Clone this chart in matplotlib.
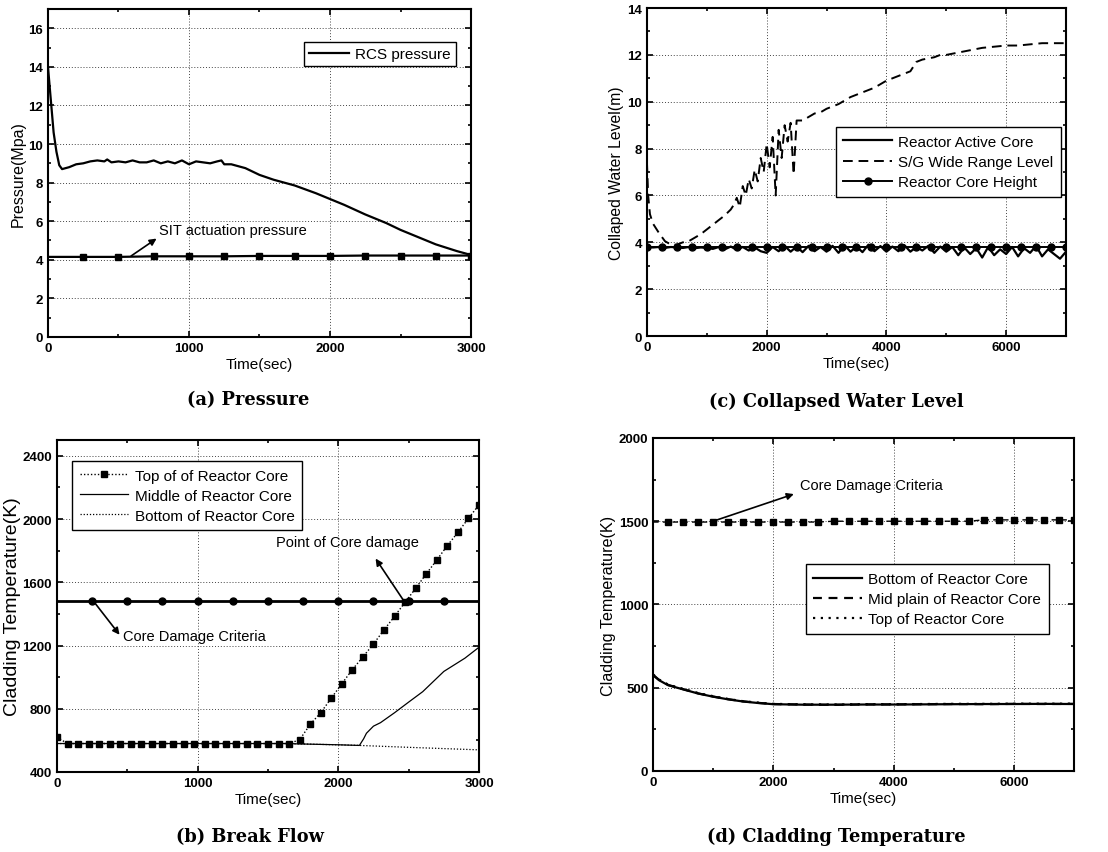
import matplotlib
matplotlib.use("Agg")
import matplotlib.pyplot as plt
from matplotlib.ticker import MultipleLocator

plt.rcParams['font.family'] = ['Liberation Sans', 'DejaVu Sans']

# ---------------- (a) Pressure ----------------
t_rcs = [0, 20, 40, 60, 80, 100, 150, 200, 250, 300, 350, 400, 420, 450, 500, 550, 600, 650,
         700, 750, 800, 850, 900, 950, 1000, 1050, 1100, 1150, 1200, 1230, 1250, 1300, 1400,
         1500, 1600, 1750, 1900, 2000, 2100, 2250, 2400, 2500, 2600, 2750, 2900, 3000]
p_rcs = [14.0, 12.3, 10.6, 9.6, 8.9, 8.7, 8.8, 8.95, 9.0, 9.1, 9.15, 9.1, 9.2, 9.05, 9.1, 9.05,
         9.15, 9.05, 9.05, 9.15, 9.0, 9.1, 9.0, 9.15, 8.95, 9.1, 9.05, 9.0, 9.1, 9.15, 8.95,
         8.95, 8.75, 8.4, 8.15, 7.85, 7.45, 7.15, 6.85, 6.35, 5.9, 5.55, 5.25, 4.8, 4.45, 4.25]
t_sit = [0, 250, 500, 750, 1000, 1250, 1500, 1750, 2000, 2250, 2500, 2750, 3000]
p_sit = [4.15, 4.15, 4.15, 4.18, 4.18, 4.18, 4.2, 4.2, 4.2, 4.22, 4.22, 4.22, 4.22]

# ---------------- (c) Collapsed water level ----------------
t_sg = [0, 20, 50, 100, 200, 300, 400, 500, 600, 700, 800, 900, 1000, 1100, 1200, 1300, 1400,
        1450, 1500, 1550, 1600, 1650, 1700, 1750, 1800, 1850, 1900, 1950, 2000, 2050, 2100,
        2150, 2200, 2250, 2300, 2350, 2400, 2450, 2500, 2600, 2700, 2800, 2900, 3000, 3200,
        3400, 3500, 3600, 3800, 4000, 4200, 4400, 4500, 4600, 4800, 4900, 5000, 5200, 5400,
        5600, 5800, 6000, 6200, 6400, 6600, 6800, 7000]
lv_sg = [7.4, 6.0, 5.2, 4.8, 4.4, 4.05, 3.9, 3.9, 4.0, 4.05, 4.2, 4.35, 4.55, 4.75, 4.95, 5.15,
         5.4, 5.6, 5.9, 5.5, 6.4, 6.0, 6.7, 6.3, 7.1, 6.6, 7.6, 7.0, 8.2, 7.2, 8.5, 6.0, 8.8,
         7.6, 9.0, 8.3, 9.1, 6.9, 9.2, 9.2, 9.35, 9.5, 9.55, 9.7, 9.9, 10.2, 10.3, 10.4, 10.6,
         10.9, 11.1, 11.3, 11.7, 11.8, 11.9, 12.0, 12.0, 12.1, 12.2, 12.3, 12.35, 12.4, 12.4,
         12.45, 12.5, 12.5, 12.5]
t_core = list(range(0, 7001, 100))
lv_core = [3.8, 3.78, 3.8, 3.76, 3.8, 3.78, 3.76, 3.8, 3.75, 3.78, 3.76,
           3.72, 3.8, 3.7, 3.82, 3.68, 3.8, 3.65, 3.78, 3.62, 3.55,
           3.8, 3.62, 3.85, 3.6, 3.82, 3.58, 3.85, 3.62, 3.8, 3.6,
           3.85, 3.55, 3.88, 3.6, 3.82, 3.58, 3.9, 3.62, 3.84, 3.6,
           3.82, 3.62, 3.88, 3.6, 3.8, 3.65, 3.85, 3.55, 3.82, 3.6,
           3.8, 3.45, 3.78, 3.5, 3.75, 3.35, 3.8, 3.45, 3.7, 3.5,
           3.8, 3.4, 3.75, 3.55, 3.85, 3.4, 3.7, 3.5, 3.3, 3.6]
t_height = list(range(0, 7001, 250))
lv_height = [3.8] * len(t_height)

# ---------------- (b) Break flow ----------------
t_top = list(range(0, 3001, 75))
T_top = ([620] + [580] * 22 +
         [604, 701, 775, 867, 958, 1048, 1128, 1210, 1299, 1385, 1474, 1562, 1653, 1741,
          1832, 1916, 2004, 2090])
t_mid = [0, 1650, 1700, 2000, 2150, 2180, 2200, 2250, 2300, 2400, 2500, 2600, 2750, 2900, 3000]
T_mid = [580, 580, 578, 572, 568, 610, 645, 690, 712, 775, 842, 908, 1036, 1120, 1189]
t_bot = [0, 1650, 1700, 2000, 2150, 2500, 3000]
T_bot = [580, 580, 578, 572, 568, 556, 540]
t_crit_b = [0, 250, 500, 750, 1000, 1250, 1500, 1750, 2000, 2250, 2500, 2750, 3000]
T_crit_b = [1480] * len(t_crit_b)

# ---------------- (d) Cladding temperature ----------------
t_d = [0, 100, 250, 500, 750, 1000, 1250, 1500, 1750, 2000, 2500, 3000, 3500, 4000, 4500,
       5000, 5500, 6000, 6500, 7000]
T_d_bot = [575, 545, 515, 490, 465, 446, 430, 417, 408, 401, 398, 398, 399, 399, 400, 401,
           402, 402, 403, 402]
T_d_mid = [578, 547, 517, 491, 466, 447, 431, 418, 409, 402, 399, 397, 400, 400, 401, 402,
           401, 403, 402, 403]
T_d_top = [580, 549, 519, 493, 468, 449, 432, 419, 410, 403, 400, 399, 401, 401, 402, 403,
           403, 404, 404, 404]
t_crit_d = list(range(0, 7001, 250))
T_crit_d = [1495] * 12 + [1500] * 10 + [1508] * 7

fig = plt.figure(figsize=(11.08, 8.53), dpi=100)

def style(ax, xmaj, xmin, ymaj, ymin):
    ax.xaxis.set_major_locator(MultipleLocator(xmaj))
    ax.xaxis.set_minor_locator(MultipleLocator(xmin))
    ax.yaxis.set_major_locator(MultipleLocator(ymaj))
    ax.yaxis.set_minor_locator(MultipleLocator(ymin))
    ax.tick_params(which='both', direction='in', top=True, right=True, width=1.2)
    ax.tick_params(which='major', length=4, labelsize=9.5)
    ax.tick_params(which='minor', length=2)
    for lab in ax.get_xticklabels() + ax.get_yticklabels():
        lab.set_fontweight('bold')
    for s in ax.spines.values():
        s.set_linewidth(1.5)
    ax.grid(True, which='major', linestyle=(0, (1, 2)), color='#444444', linewidth=0.7)
    ax.set_xlabel('Time(sec)', fontsize=11, labelpad=2)

leg_kw = dict(fancybox=False, edgecolor='black', framealpha=1, fontsize=11,
              handlelength=2.6, borderpad=0.35, labelspacing=0.25, handletextpad=0.4,
              borderaxespad=0)
leg_kw3 = dict(leg_kw, handlelength=3.2, borderpad=0.5, labelspacing=0.4)
arrow_kw = dict(arrowstyle='-|>', color='black', lw=1.2, mutation_scale=10, shrinkA=0, shrinkB=0)

# (a)
ax = fig.add_axes([0.0433, 0.6038, 0.3818, 0.3845])
ax.plot(t_rcs, p_rcs, color='black', lw=1.6, label='RCS pressure')
ax.plot(t_sit, p_sit, color='black', lw=1.6, marker='s', ms=5, markevery=slice(1, None))
ax.set_xlim(0, 3000)
ax.set_ylim(0, 17)
style(ax, 1000, 500, 2, 1)
ax.set_ylabel('Pressure(Mpa)', fontsize=11.5, labelpad=2)
ax.legend(loc='upper right', bbox_to_anchor=(0.965, 0.90), **leg_kw)
ax.text(790, 5.55, 'SIT actuation pressure', fontsize=10.5, va='center', ha='left')
ax.annotate('', xy=(770, 5.1), xytext=(590, 4.2), arrowprops=arrow_kw)

# (c)
ax = fig.add_axes([0.5839, 0.6049, 0.3782, 0.3845])
ax.plot(t_core, lv_core, color='black', lw=1.6, label='Reactor Active Core')
ax.plot(t_sg, lv_sg, color='black', lw=1.4, linestyle=(0, (5, 3)), label='S/G Wide Range Level')
ax.plot(t_height, lv_height, color='black', lw=1.4, marker='o', ms=5, label='Reactor Core Height')
ax.set_xlim(0, 7000)
ax.set_ylim(0, 14)
style(ax, 2000, 1000, 2, 1)
ax.set_ylabel('Collaped Water Level(m)', fontsize=11.3, labelpad=2)
ax.legend(loc='upper right', bbox_to_anchor=(0.988, 0.637), **leg_kw3)

# (b)
ax = fig.add_axes([0.0514, 0.0938, 0.3809, 0.3892])
ax.plot(t_top, T_top, color='black', lw=1.0, linestyle=(0, (1, 1.5)), marker='s', ms=5,
        label='Top of of Reactor Core')
ax.plot(t_mid, T_mid, color='black', lw=0.9, label='Middle of Reactor Core')
ax.plot(t_bot, T_bot, color='black', lw=0.9, linestyle=(0, (1, 1.5)), label='Bottom of Reactor Core')
ax.plot(t_crit_b, T_crit_b, color='black', lw=2.0, marker='o', ms=5, markevery=slice(1, -1))
ax.set_xlim(0, 3000)
ax.set_ylim(400, 2500)
style(ax, 1000, 500, 400, 200)
ax.set_ylabel('Cladding Temperature(K)', fontsize=14, labelpad=1)
ax.legend(loc='upper left', bbox_to_anchor=(0.0355, 0.937), **leg_kw3)
ax.text(1560, 1853, 'Point of Core damage', fontsize=10.5, va='center', ha='left')
ax.annotate('', xy=(2265, 1750), xytext=(2460, 1490), arrowprops=arrow_kw)
ax.text(470, 1263, 'Core Damage Criteria', fontsize=10.5, va='center', ha='left')
ax.annotate('', xy=(445, 1268), xytext=(260, 1480), arrowprops=arrow_kw)

# (d)
ax = fig.add_axes([0.5894, 0.0950, 0.3800, 0.3904])
ax.plot(t_d, T_d_bot, color='black', lw=1.6, label='Bottom of Reactor Core')
ax.plot(t_d, T_d_mid, color='black', lw=1.6, linestyle=(0, (4, 3)), label='Mid plain of Reactor Core')
ax.plot(t_d, T_d_top, color='black', lw=1.6, linestyle=(0, (1, 2.5)), label='Top of Reactor Core')
ax.plot(t_crit_d, T_crit_d, color='black', lw=1.0, linestyle=(0, (4, 3)), marker='s', ms=5,
        markevery=slice(1, None))
ax.set_xlim(0, 7000)
ax.set_ylim(0, 2000)
style(ax, 2000, 1000, 500, 250)
ax.set_ylabel('Cladding Temperature(K)', fontsize=11.6, labelpad=2)
ax.legend(loc='upper right', bbox_to_anchor=(0.94, 0.62), **leg_kw3)
ax.text(2440, 1719, 'Core Damage Criteria', fontsize=10.5, va='center', ha='left')
ax.annotate('', xy=(2340, 1663), xytext=(1000, 1500), arrowprops=arrow_kw)

cap_kw = dict(fontsize=12.8, fontweight='bold', family=['DejaVu Serif'],
              ha='center', va='center')
fig.text(0.224, 0.531, '(a) Pressure', **cap_kw)
fig.text(0.7545, 0.529, '(c) Collapsed Water Level', **cap_kw)
fig.text(0.2256, 0.019, '(b) Break Flow', **cap_kw)
fig.text(0.755, 0.019, '(d) Cladding Temperature', **cap_kw)

fig.savefig('out.png', dpi=100)
